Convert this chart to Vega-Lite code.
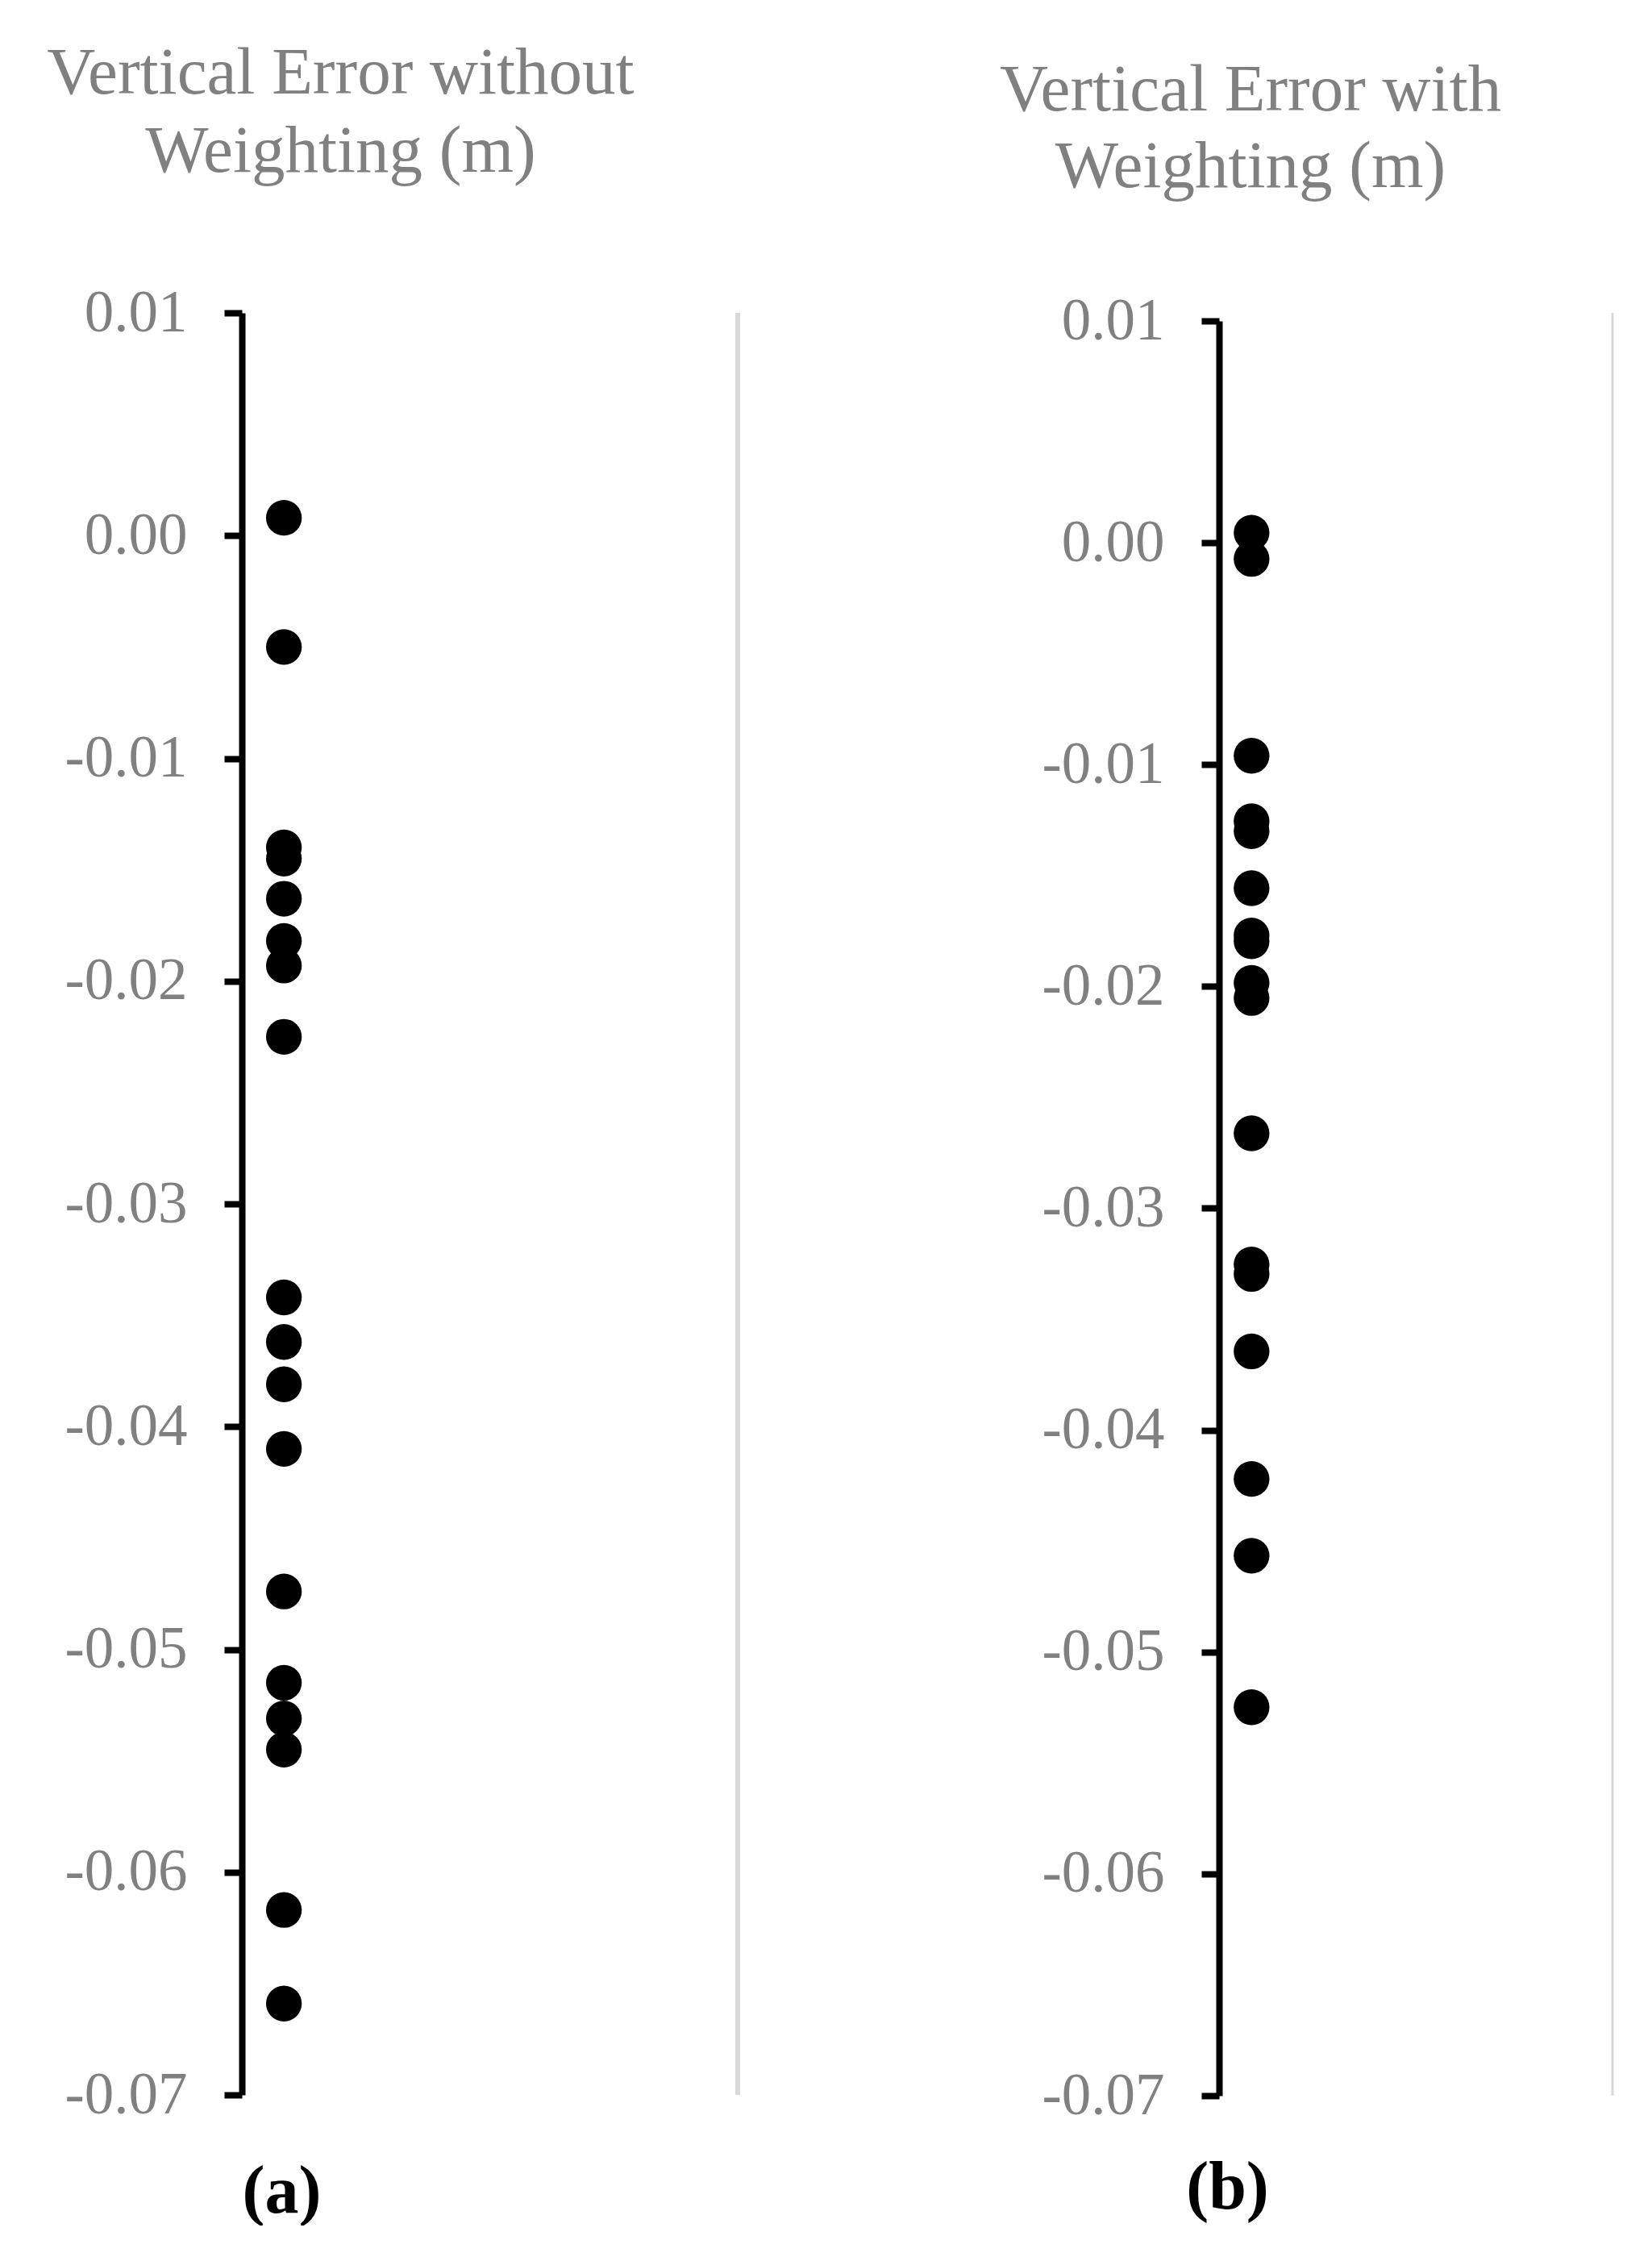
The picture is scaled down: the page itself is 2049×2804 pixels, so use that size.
{
  "$schema": "https://vega.github.io/schema/vega-lite/v6.json",
  "background": "white",
  "autosize": {"type": "pad"},
  "padding": {"left": 58, "top": 50, "right": 0, "bottom": 0},
  "config": {"view": {"stroke": null}, "font": "Liberation Serif"},
  "bounds": "flush",
  "spacing": 597,
  "hconcat": [
    {
      "width": 615,
      "height": 2210,
      "title": {"text": ["Vertical Error without", "Weighting (m)"], "font": "Liberation Serif", "fontSize": 83, "fontWeight": "normal", "color": "#808080", "anchor": "middle", "frame": "group", "dx": -185, "offset": 56, "lineHeight": 97, "baseline": "alphabetic"},
      "layer": [
        {
          "data": {"values": [{"edge": 11.8}]},
          "mark": {"type": "rule", "color": "#d9d9d9", "strokeWidth": 6},
          "encoding": {"x": {"field": "edge", "type": "quantitative", "scale": {"domain": [0, 11.8], "nice": false, "zero": true},
              "axis": {"domain": false, "ticks": false, "labels": false, "grid": false, "title": "(a)", "titleFont": "Liberation Serif", "titleFontSize": 84, "titleFontWeight": "bold", "titleColor": "#000000", "titleX": 49, "titleY": 145, "titleBaseline": "alphabetic", "titleAlign": "center"}}}
        },
        {
          "data": {"values": [
            {"error": 0.0008}, {"error": -0.0050}, {"error": -0.0140}, {"error": -0.0145},
            {"error": -0.0163}, {"error": -0.0182}, {"error": -0.0193}, {"error": -0.0225},
            {"error": -0.0342}, {"error": -0.0362}, {"error": -0.0381}, {"error": -0.0410},
            {"error": -0.0474}, {"error": -0.0515}, {"error": -0.0531}, {"error": -0.0545},
            {"error": -0.0617}, {"error": -0.0659}
          ]},
          "mark": {"type": "point", "shape": "circle", "filled": true, "size": 1963, "color": "#000000", "opacity": 1},
          "encoding": {
            "x": {"datum": 1, "type": "quantitative", "scale": {"domain": [0, 11.8], "nice": false, "zero": true},
              "axis": {"domain": false, "ticks": false, "labels": false, "grid": false, "title": "(a)", "titleFont": "Liberation Serif", "titleFontSize": 84, "titleFontWeight": "bold", "titleColor": "#000000", "titleX": 49, "titleY": 145, "titleBaseline": "alphabetic", "titleAlign": "center"}},
            "y": {"field": "error", "type": "quantitative", "scale": {"domain": [-0.07, 0.01], "nice": false, "zero": false},
              "axis": {"values": [0.01, 0, -0.01, -0.02, -0.03, -0.04, -0.05, -0.06, -0.07], "labelExpr": "replace(format(datum.value, '.2f'), '\u2212', '-')", "labelFont": "Liberation Serif", "labelFontSize": 73, "labelColor": "#808080", "labelPadding": 46, "tickSize": 22, "tickWidth": 8, "tickColor": "#000000", "domainColor": "#000000", "domainWidth": 8, "grid": false, "title": null, "labelOverlap": false}}
          }
        }
      ]
    },
    {
      "width": 488,
      "height": 2211,
      "title": {"text": ["Vertical Error with", "Weighting (m)"], "font": "Liberation Serif", "fontSize": 83, "fontWeight": "normal", "color": "#808080", "anchor": "middle", "frame": "group", "dx": -205, "offset": 47, "lineHeight": 95, "baseline": "alphabetic"},
      "layer": [
        {
          "data": {"values": [{"edge": 12.1}]},
          "mark": {"type": "rule", "color": "#d9d9d9", "strokeWidth": 3},
          "encoding": {
            "x": {"field": "edge", "type": "quantitative", "scale": {"domain": [0, 12.1], "nice": false, "zero": true},
              "axis": {"domain": false, "ticks": false, "labels": false, "grid": false, "title": "(b)", "titleFont": "Liberation Serif", "titleFontSize": 84, "titleFontWeight": "bold", "titleColor": "#000000", "titleX": 10, "titleY": 139, "titleBaseline": "alphabetic", "titleAlign": "center"}}
          }
        },
        {
          "data": {"values": [
            {"error": 0.00045}, {"error": -0.00073}, {"error": -0.0096}, {"error": -0.01255},
            {"error": -0.0130}, {"error": -0.01557}, {"error": -0.0177}, {"error": -0.01796},
            {"error": -0.01984}, {"error": -0.02052}, {"error": -0.02662}, {"error": -0.03253},
            {"error": -0.03296}, {"error": -0.03645}, {"error": -0.0422}, {"error": -0.04566},
            {"error": -0.05249}
          ]},
          "mark": {"type": "point", "shape": "circle", "filled": true, "size": 1963, "color": "#000000", "opacity": 1},
          "encoding": {
            "x": {"datum": 1, "type": "quantitative", "scale": {"domain": [0, 12.1], "nice": false, "zero": true},
              "axis": {"domain": false, "ticks": false, "labels": false, "grid": false, "title": "(b)", "titleFont": "Liberation Serif", "titleFontSize": 84, "titleFontWeight": "bold", "titleColor": "#000000", "titleX": 10, "titleY": 139, "titleBaseline": "alphabetic", "titleAlign": "center"}},
            "y": {"field": "error", "type": "quantitative", "scale": {"domain": [-0.07, 0.01], "nice": false, "zero": false, "range": [2211, 10]},
              "axis": {"values": [0.01, 0, -0.01, -0.02, -0.03, -0.04, -0.05, -0.06, -0.07], "labelExpr": "replace(format(datum.value, '.2f'), '\u2212', '-')", "labelFont": "Liberation Serif", "labelFontSize": 73, "labelColor": "#808080", "labelPadding": 46, "tickSize": 22, "tickWidth": 8, "tickColor": "#000000", "domainColor": "#000000", "domainWidth": 8, "grid": false, "title": null, "labelOverlap": false}}
          }
        }
      ]
    }
  ]
}
